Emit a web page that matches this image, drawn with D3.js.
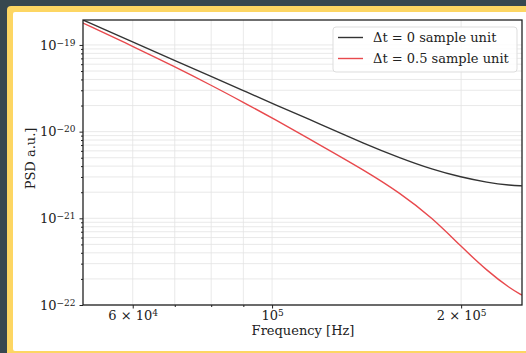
<!DOCTYPE html>
<html>
<head>
<meta charset="utf-8">
<script src="https://cdn.jsdelivr.net/npm/d3@7"></script>
<style>
  body { margin: 0; background: #37474f; }
  svg { display: block; font-family: "DejaVu Serif", serif; }
  .grid line { stroke: #e3e3e3; stroke-width: 0.8; }
  .axis path { stroke: #222; stroke-width: 1.3; }
  .axis line { stroke: #222; }
  .axis text { fill: #222; font-size: 13px; font-family: "DejaVu Serif", serif; }
</style>
</head>
<body>
<svg width="526" height="353"></svg>
<script>
// frequencies in Hz
let freq = [5e4, 6e4, 7e4, 8e4, 9e4, 1e5, 1.2e5, 1.4e5, 1.6e5, 1.8e5, 2e5, 2.2e5, 2.4e5, 2.5e5];
// Δt = 0 sample unit
let psd0 = [1.94e-19, 1.08e-19, 6.62e-20, 4.33e-20, 2.98e-20, 2.12e-20, 1.2e-20, 7.3e-21, 4.95e-21, 3.66e-21, 2.98e-21, 2.59e-21, 2.4e-21, 2.37e-21];
// Δt = 0.5 sample unit
let psd05 = [1.79e-19, 9.66e-20, 5.6e-20, 3.43e-20, 2.18e-20, 1.44e-20, 6.84e-21, 3.61e-21, 1.96e-21, 1.01e-21, 4.73e-22, 2.47e-22, 1.53e-22, 1.3e-22];

let seriesNames = ["Δt = 0 sample unit", "Δt = 0.5 sample unit"];
let xGridTicks = [6e4, 7e4, 8e4, 9e4, 1e5, 2e5];
let xLabelTicks = [6e4, 1e5, 2e5];
let xLabels = [["6 × 10", "4"], ["10", "5"], ["2 × 10", "5"]];
let yLabelTicks = [1e-22, 1e-21, 1e-20, 1e-19];
let yLabels = [["10", "−22"], ["10", "−21"], ["10", "−20"], ["10", "−19"]];

let svg = d3.select("svg");

// frame
svg.append("rect").attr("x", 7).attr("y", 6).attr("width", 560).attr("height", 370)
  .attr("rx", 4).attr("fill", "#fdd663");
svg.append("rect").attr("x", 13).attr("y", 12).attr("width", 560).attr("height", 339)
  .attr("rx", 2).attr("fill", "#ffffff");

let plot = { left: 83, right: 522, top: 20, bottom: 305 };

let xScale = d3.scaleLog().domain([5e4, 2.5e5]).range([plot.left, plot.right]);
let yScale = d3.scaleLog().domain([1e-22, 1.94e-19]).range([plot.bottom, plot.top]);

// minor + major y grid values
let yGridTicks = [];
for (let e = -22; e <= -19; e++) {
  for (let m = 1; m <= 9; m++) {
    let v = m * Math.pow(10, e);
    if (v >= 1e-22 && v <= 1.94e-19) yGridTicks.push(v);
  }
}

svg.append("g")
  .attr("class", "grid")
  .selectAll("line.v")
  .data(xGridTicks)
  .enter()
  .append("line")
  .attr("x1", (d) => xScale(d)).attr("x2", (d) => xScale(d))
  .attr("y1", plot.top).attr("y2", plot.bottom);

svg.append("g")
  .attr("class", "grid")
  .selectAll("line.h")
  .data(yGridTicks)
  .enter()
  .append("line")
  .attr("x1", plot.left).attr("x2", plot.right)
  .attr("y1", (d) => yScale(d)).attr("y2", (d) => yScale(d));

// lines
svg.append("clipPath").attr("id", "clip")
  .append("rect")
  .attr("x", plot.left).attr("y", plot.top)
  .attr("width", plot.right - plot.left).attr("height", plot.bottom - plot.top);

let line = d3.line()
  .x((d) => xScale(d[0]))
  .y((d) => yScale(d[1]))
  .curve(d3.curveBasis);

let colors = ["#333333", "#e8494d"];
let fig = svg.append("g").attr("clip-path", "url(#clip)");
[psd0, psd05].forEach((s, i) => {
  fig.append("path")
    .datum(freq.map((f, j) => [f, s[j]]))
    .attr("d", line)
    .attr("fill", "none")
    .attr("stroke", colors[i])
    .attr("stroke-width", 1.4);
});

// axes
function supLabels(sel, labels) {
  sel.attr("font-family", null).attr("font-size", null);
  sel.selectAll(".tick text").each(function (d, i) {
    let t = d3.select(this).text("");
    t.append("tspan").text(labels[i][0]);
    t.append("tspan").attr("dy", "-0.45em").attr("font-size", "9px").text(labels[i][1]);
  });
}

let xAxis = svg.append("g")
  .attr("class", "axis")
  .attr("transform", `translate(0,${plot.bottom})`)
  .call(d3.axisBottom(xScale).tickValues(xLabelTicks).tickSize(3.5).tickPadding(4).tickFormat(() => "x"));
xAxis.select(".domain").remove();
supLabels(xAxis, xLabels);
xAxis.selectAll(".tick text").attr("dy", "0.6em");

let xMinor = svg.append("g")
  .attr("class", "axis")
  .attr("transform", `translate(0,${plot.bottom})`)
  .call(d3.axisBottom(xScale).tickValues([7e4, 8e4, 9e4]).tickSize(2).tickFormat(""));
xMinor.select(".domain").remove();

let yAxis = svg.append("g")
  .attr("class", "axis")
  .attr("transform", `translate(${plot.left},0)`)
  .call(d3.axisLeft(yScale).tickValues(yLabelTicks).tickSize(3.5).tickPadding(4).tickFormat(() => "x"));
yAxis.select(".domain").remove();
supLabels(yAxis, yLabels);

let yMinor = svg.append("g")
  .attr("class", "axis")
  .attr("transform", `translate(${plot.left},0)`)
  .call(d3.axisLeft(yScale).tickValues(yGridTicks.filter((v) => yLabelTicks.indexOf(v) < 0)).tickSize(2).tickFormat(""));
yMinor.select(".domain").remove();

// spines
svg.append("rect")
  .attr("x", plot.left).attr("y", plot.top)
  .attr("width", plot.right - plot.left).attr("height", plot.bottom - plot.top)
  .attr("fill", "none").attr("stroke", "#222").attr("stroke-width", 1.3);

// axis titles
svg.append("text")
  .attr("x", 303).attr("y", 335)
  .attr("text-anchor", "middle").attr("font-size", "13px").attr("fill", "#222")
  .text("Frequency [Hz]");
svg.append("text")
  .attr("transform", `translate(35,${(plot.top + plot.bottom) / 2 - 4}) rotate(-90)`)
  .attr("text-anchor", "middle").attr("font-size", "13px").attr("fill", "#222")
  .text("PSD a.u.]");

// legend
let legend = svg.append("g").attr("transform", "translate(333,27)");
legend.append("rect").attr("width", 184).attr("height", 45).attr("rx", 3)
  .attr("fill", "#fff").attr("fill-opacity", 0.85).attr("stroke", "#dddddd");
let items = legend.selectAll("g.item")
  .data(seriesNames)
  .enter()
  .append("g")
  .attr("transform", (d, i) => `translate(0,${10.5 + i * 21})`);
items.append("line").attr("x1", 5).attr("x2", 30)
  .attr("stroke", (d, i) => colors[i]).attr("stroke-width", 1.4);
items.append("text").attr("x", 40).attr("dy", "0.35em")
  .attr("font-size", "13px").attr("fill", "#222")
  .text((d) => d);
</script>
</body>
</html>
